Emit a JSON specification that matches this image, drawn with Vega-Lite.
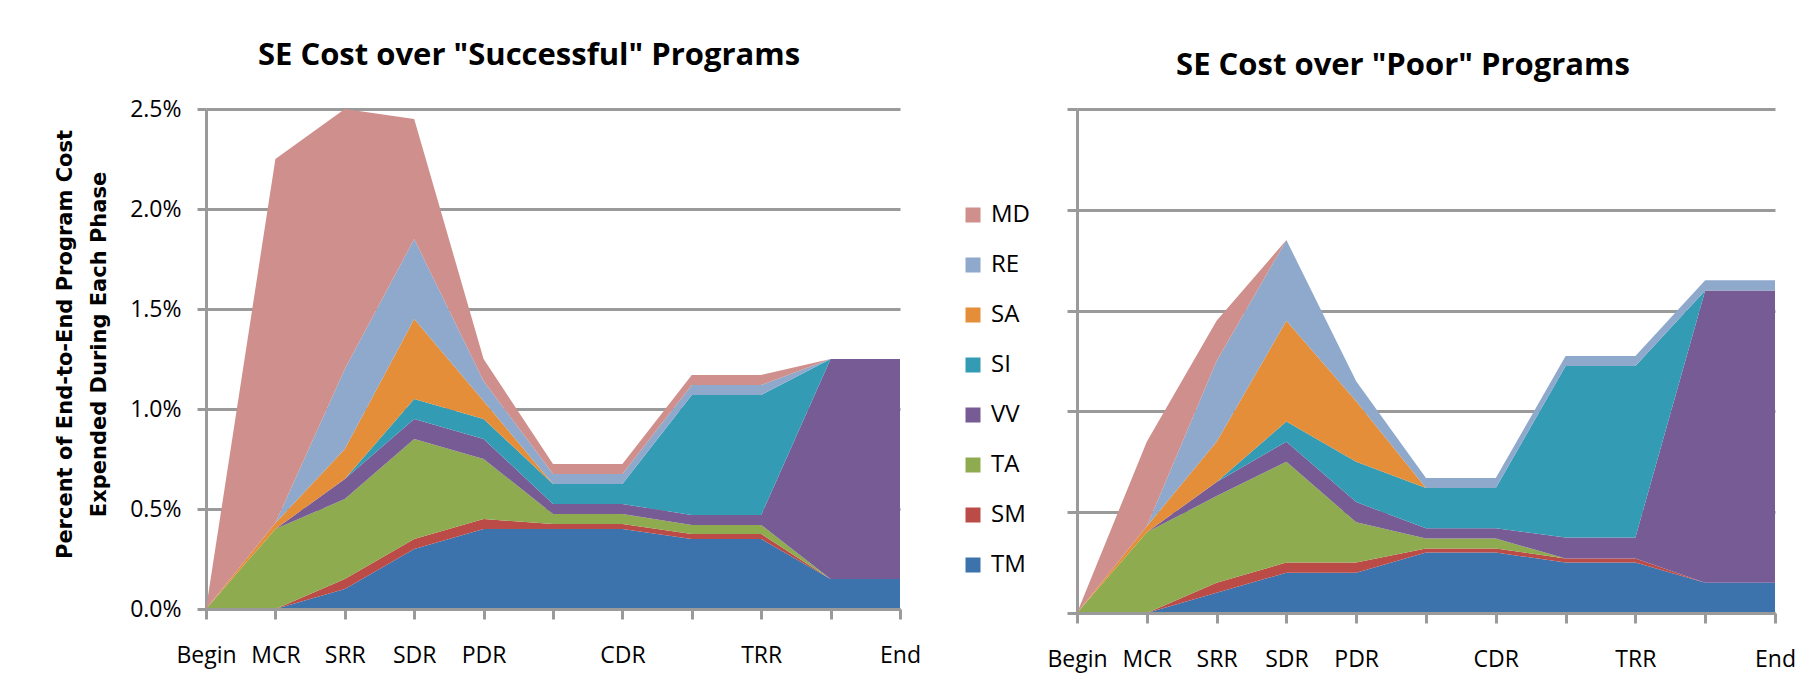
{
  "$schema": "https://vega.github.io/schema/vega-lite/v6.json",
  "background": "white",
  "padding": {"left": 54, "top": 40, "right": 5, "bottom": 5},
  "spacing": 16,
  "config": {
    "font": "Open Sans",
    "view": {"stroke": null},
    "axis": {"domainColor": "#9a9a9a", "domainWidth": 3, "tickColor": "#9a9a9a", "tickWidth": 3, "gridColor": "#9a9a9a", "gridWidth": 3, "labelColor": "#000000", "labelFont": "Open Sans", "labelFontSize": 23, "titleColor": "#000000", "titleFont": "Open Sans"},
    "title": {"font": "Open Sans", "fontSize": 31, "fontWeight": "bold", "color": "#000000"},
    "legend": {"labelFont": "Open Sans", "labelColor": "#000000"}
  },
  "resolve": {"scale": {"color": "independent"}, "legend": {"color": "independent"}},
  "datasets": {
    "successful": [
      {"phase":"Begin","series":"TM","k":1,"value":0},{"phase":"Begin","series":"SM","k":2,"value":0},{"phase":"Begin","series":"TA","k":3,"value":0},{"phase":"Begin","series":"VV","k":4,"value":0},{"phase":"Begin","series":"SI","k":5,"value":0},{"phase":"Begin","series":"SA","k":6,"value":0},{"phase":"Begin","series":"RE","k":7,"value":0},{"phase":"Begin","series":"MD","k":8,"value":0},
      {"phase":"MCR","series":"TM","k":1,"value":0},{"phase":"MCR","series":"SM","k":2,"value":0},{"phase":"MCR","series":"TA","k":3,"value":0.40},{"phase":"MCR","series":"VV","k":4,"value":0},{"phase":"MCR","series":"SI","k":5,"value":0},{"phase":"MCR","series":"SA","k":6,"value":0.03},{"phase":"MCR","series":"RE","k":7,"value":0},{"phase":"MCR","series":"MD","k":8,"value":1.82},
      {"phase":"SRR","series":"TM","k":1,"value":0.10},{"phase":"SRR","series":"SM","k":2,"value":0.05},{"phase":"SRR","series":"TA","k":3,"value":0.40},{"phase":"SRR","series":"VV","k":4,"value":0.10},{"phase":"SRR","series":"SI","k":5,"value":0},{"phase":"SRR","series":"SA","k":6,"value":0.15},{"phase":"SRR","series":"RE","k":7,"value":0.40},{"phase":"SRR","series":"MD","k":8,"value":1.30},
      {"phase":"SDR","series":"TM","k":1,"value":0.30},{"phase":"SDR","series":"SM","k":2,"value":0.05},{"phase":"SDR","series":"TA","k":3,"value":0.50},{"phase":"SDR","series":"VV","k":4,"value":0.10},{"phase":"SDR","series":"SI","k":5,"value":0.10},{"phase":"SDR","series":"SA","k":6,"value":0.40},{"phase":"SDR","series":"RE","k":7,"value":0.40},{"phase":"SDR","series":"MD","k":8,"value":0.60},
      {"phase":"PDR","series":"TM","k":1,"value":0.40},{"phase":"PDR","series":"SM","k":2,"value":0.05},{"phase":"PDR","series":"TA","k":3,"value":0.30},{"phase":"PDR","series":"VV","k":4,"value":0.10},{"phase":"PDR","series":"SI","k":5,"value":0.10},{"phase":"PDR","series":"SA","k":6,"value":0.09},{"phase":"PDR","series":"RE","k":7,"value":0.10},{"phase":"PDR","series":"MD","k":8,"value":0.11},
      {"phase":"PDR-CDR","series":"TM","k":1,"value":0.40},{"phase":"PDR-CDR","series":"SM","k":2,"value":0.025},{"phase":"PDR-CDR","series":"TA","k":3,"value":0.05},{"phase":"PDR-CDR","series":"VV","k":4,"value":0.05},{"phase":"PDR-CDR","series":"SI","k":5,"value":0.10},{"phase":"PDR-CDR","series":"SA","k":6,"value":0},{"phase":"PDR-CDR","series":"RE","k":7,"value":0.05},{"phase":"PDR-CDR","series":"MD","k":8,"value":0.05},
      {"phase":"CDR","series":"TM","k":1,"value":0.40},{"phase":"CDR","series":"SM","k":2,"value":0.025},{"phase":"CDR","series":"TA","k":3,"value":0.05},{"phase":"CDR","series":"VV","k":4,"value":0.05},{"phase":"CDR","series":"SI","k":5,"value":0.10},{"phase":"CDR","series":"SA","k":6,"value":0},{"phase":"CDR","series":"RE","k":7,"value":0.05},{"phase":"CDR","series":"MD","k":8,"value":0.05},
      {"phase":"CDR-TRR","series":"TM","k":1,"value":0.35},{"phase":"CDR-TRR","series":"SM","k":2,"value":0.025},{"phase":"CDR-TRR","series":"TA","k":3,"value":0.045},{"phase":"CDR-TRR","series":"VV","k":4,"value":0.05},{"phase":"CDR-TRR","series":"SI","k":5,"value":0.60},{"phase":"CDR-TRR","series":"SA","k":6,"value":0},{"phase":"CDR-TRR","series":"RE","k":7,"value":0.05},{"phase":"CDR-TRR","series":"MD","k":8,"value":0.05},
      {"phase":"TRR","series":"TM","k":1,"value":0.35},{"phase":"TRR","series":"SM","k":2,"value":0.025},{"phase":"TRR","series":"TA","k":3,"value":0.045},{"phase":"TRR","series":"VV","k":4,"value":0.05},{"phase":"TRR","series":"SI","k":5,"value":0.60},{"phase":"TRR","series":"SA","k":6,"value":0},{"phase":"TRR","series":"RE","k":7,"value":0.05},{"phase":"TRR","series":"MD","k":8,"value":0.05},
      {"phase":"TRR-End","series":"TM","k":1,"value":0.15},{"phase":"TRR-End","series":"SM","k":2,"value":0},{"phase":"TRR-End","series":"TA","k":3,"value":0},{"phase":"TRR-End","series":"VV","k":4,"value":1.10},{"phase":"TRR-End","series":"SI","k":5,"value":0},{"phase":"TRR-End","series":"SA","k":6,"value":0},{"phase":"TRR-End","series":"RE","k":7,"value":0},{"phase":"TRR-End","series":"MD","k":8,"value":0},
      {"phase":"End","series":"TM","k":1,"value":0.15},{"phase":"End","series":"SM","k":2,"value":0},{"phase":"End","series":"TA","k":3,"value":0},{"phase":"End","series":"VV","k":4,"value":1.10},{"phase":"End","series":"SI","k":5,"value":0},{"phase":"End","series":"SA","k":6,"value":0},{"phase":"End","series":"RE","k":7,"value":0},{"phase":"End","series":"MD","k":8,"value":0}
    ],
    "poor": [
      {"phase":"Begin","series":"TM","k":1,"value":0},{"phase":"Begin","series":"SM","k":2,"value":0},{"phase":"Begin","series":"TA","k":3,"value":0},{"phase":"Begin","series":"VV","k":4,"value":0},{"phase":"Begin","series":"SI","k":5,"value":0},{"phase":"Begin","series":"SA","k":6,"value":0},{"phase":"Begin","series":"RE","k":7,"value":0},{"phase":"Begin","series":"MD","k":8,"value":0},
      {"phase":"MCR","series":"TM","k":1,"value":0},{"phase":"MCR","series":"SM","k":2,"value":0},{"phase":"MCR","series":"TA","k":3,"value":0.40},{"phase":"MCR","series":"VV","k":4,"value":0},{"phase":"MCR","series":"SI","k":5,"value":0},{"phase":"MCR","series":"SA","k":6,"value":0.03},{"phase":"MCR","series":"RE","k":7,"value":0},{"phase":"MCR","series":"MD","k":8,"value":0.42},
      {"phase":"SRR","series":"TM","k":1,"value":0.10},{"phase":"SRR","series":"SM","k":2,"value":0.05},{"phase":"SRR","series":"TA","k":3,"value":0.43},{"phase":"SRR","series":"VV","k":4,"value":0.07},{"phase":"SRR","series":"SI","k":5,"value":0},{"phase":"SRR","series":"SA","k":6,"value":0.20},{"phase":"SRR","series":"RE","k":7,"value":0.40},{"phase":"SRR","series":"MD","k":8,"value":0.20},
      {"phase":"SDR","series":"TM","k":1,"value":0.20},{"phase":"SDR","series":"SM","k":2,"value":0.05},{"phase":"SDR","series":"TA","k":3,"value":0.50},{"phase":"SDR","series":"VV","k":4,"value":0.10},{"phase":"SDR","series":"SI","k":5,"value":0.10},{"phase":"SDR","series":"SA","k":6,"value":0.50},{"phase":"SDR","series":"RE","k":7,"value":0.40},{"phase":"SDR","series":"MD","k":8,"value":0},
      {"phase":"PDR","series":"TM","k":1,"value":0.20},{"phase":"PDR","series":"SM","k":2,"value":0.05},{"phase":"PDR","series":"TA","k":3,"value":0.20},{"phase":"PDR","series":"VV","k":4,"value":0.10},{"phase":"PDR","series":"SI","k":5,"value":0.20},{"phase":"PDR","series":"SA","k":6,"value":0.30},{"phase":"PDR","series":"RE","k":7,"value":0.10},{"phase":"PDR","series":"MD","k":8,"value":0},
      {"phase":"PDR-CDR","series":"TM","k":1,"value":0.30},{"phase":"PDR-CDR","series":"SM","k":2,"value":0.02},{"phase":"PDR-CDR","series":"TA","k":3,"value":0.05},{"phase":"PDR-CDR","series":"VV","k":4,"value":0.05},{"phase":"PDR-CDR","series":"SI","k":5,"value":0.20},{"phase":"PDR-CDR","series":"SA","k":6,"value":0},{"phase":"PDR-CDR","series":"RE","k":7,"value":0.05},{"phase":"PDR-CDR","series":"MD","k":8,"value":0},
      {"phase":"CDR","series":"TM","k":1,"value":0.30},{"phase":"CDR","series":"SM","k":2,"value":0.02},{"phase":"CDR","series":"TA","k":3,"value":0.05},{"phase":"CDR","series":"VV","k":4,"value":0.05},{"phase":"CDR","series":"SI","k":5,"value":0.20},{"phase":"CDR","series":"SA","k":6,"value":0},{"phase":"CDR","series":"RE","k":7,"value":0.05},{"phase":"CDR","series":"MD","k":8,"value":0},
      {"phase":"CDR-TRR","series":"TM","k":1,"value":0.25},{"phase":"CDR-TRR","series":"SM","k":2,"value":0.02},{"phase":"CDR-TRR","series":"TA","k":3,"value":0},{"phase":"CDR-TRR","series":"VV","k":4,"value":0.105},{"phase":"CDR-TRR","series":"SI","k":5,"value":0.85},{"phase":"CDR-TRR","series":"SA","k":6,"value":0},{"phase":"CDR-TRR","series":"RE","k":7,"value":0.05},{"phase":"CDR-TRR","series":"MD","k":8,"value":0},
      {"phase":"TRR","series":"TM","k":1,"value":0.25},{"phase":"TRR","series":"SM","k":2,"value":0.02},{"phase":"TRR","series":"TA","k":3,"value":0},{"phase":"TRR","series":"VV","k":4,"value":0.105},{"phase":"TRR","series":"SI","k":5,"value":0.85},{"phase":"TRR","series":"SA","k":6,"value":0},{"phase":"TRR","series":"RE","k":7,"value":0.05},{"phase":"TRR","series":"MD","k":8,"value":0},
      {"phase":"TRR-End","series":"TM","k":1,"value":0.15},{"phase":"TRR-End","series":"SM","k":2,"value":0},{"phase":"TRR-End","series":"TA","k":3,"value":0},{"phase":"TRR-End","series":"VV","k":4,"value":1.45},{"phase":"TRR-End","series":"SI","k":5,"value":0},{"phase":"TRR-End","series":"SA","k":6,"value":0},{"phase":"TRR-End","series":"RE","k":7,"value":0.05},{"phase":"TRR-End","series":"MD","k":8,"value":0},
      {"phase":"End","series":"TM","k":1,"value":0.15},{"phase":"End","series":"SM","k":2,"value":0},{"phase":"End","series":"TA","k":3,"value":0},{"phase":"End","series":"VV","k":4,"value":1.45},{"phase":"End","series":"SI","k":5,"value":0},{"phase":"End","series":"SA","k":6,"value":0},{"phase":"End","series":"RE","k":7,"value":0.05},{"phase":"End","series":"MD","k":8,"value":0}
    ]
  },
  "hconcat": [
    {
      "width": 694,
      "height": 500,
      "title": {"text": "SE Cost over \"Successful\" Programs", "offset": 26, "dx": -24},
      "data": {"name": "successful"},
      "mark": {"type": "area", "interpolate": "linear"},
      "encoding": {
        "x": {"field": "phase", "type": "ordinal", "sort": ["Begin","MCR","SRR","SDR","PDR","PDR-CDR","CDR","CDR-TRR","TRR","TRR-End","End"], "scale": {"type": "point", "padding": 0},
              "axis": {"title": null, "labelAngle": 0, "labelExpr": "indexof(datum.value, '-') >= 0 ? '' : datum.value", "tickSize": 10, "labelPadding": 25, "grid": false, "zindex": 1}},
        "y": {"field": "value", "type": "quantitative", "stack": "zero", "scale": {"domain": [0, 2.5], "nice": false},
              "axis": {"values": [0, 0.5, 1, 1.5, 2, 2.5], "labelExpr": "format(datum.value, '.1f') + '%'", "title": ["Percent of End-to-End Program Cost", "Expended During Each Phase"], "titleFont": "DejaVu Sans", "titleFontSize": 21, "titleFontWeight": "bold", "titlePadding": 20, "titleLineHeight": 34, "titleY": 235, "tickSize": 9, "labelPadding": 16, "grid": true, "zindex": 0}},
        "color": {"field": "series", "type": "nominal",
                  "scale": {"domain": ["MD","RE","SA","SI","VV","TA","SM","TM"],
                            "range": ["#CF8F8C", "#8FA9CC", "#E48E39", "#349BB5", "#765B95", "#8EAB4F", "#BA4B46", "#3C73AC"]},
                  "legend": {"orient": "none", "legendX": 755, "legendY": 94, "title": null, "symbolType": "square", "symbolSize": 225, "symbolStrokeWidth": 0, "symbolOpacity": 1, "labelFontSize": 24, "labelOffset": 6, "rowPadding": 26}},
        "order": {"field": "k", "type": "quantitative"}
      }
    },
    {
      "width": 698,
      "height": 504,
      "title": {"text": "SE Cost over \"Poor\" Programs", "offset": 26, "dx": -23},
      "data": {"name": "poor"},
      "mark": {"type": "area", "interpolate": "linear"},
      "encoding": {
        "x": {"field": "phase", "type": "ordinal", "sort": ["Begin","MCR","SRR","SDR","PDR","PDR-CDR","CDR","CDR-TRR","TRR","TRR-End","End"], "scale": {"type": "point", "padding": 0},
              "axis": {"title": null, "labelAngle": 0, "labelExpr": "indexof(datum.value, '-') >= 0 ? '' : datum.value", "tickSize": 10, "labelPadding": 25, "grid": false, "zindex": 1}},
        "y": {"field": "value", "type": "quantitative", "stack": "zero", "scale": {"domain": [0, 2.5], "nice": false},
              "axis": {"values": [0, 0.5, 1, 1.5, 2, 2.5], "labels": false, "title": null, "tickSize": 10, "grid": true, "zindex": 0}},
        "color": {"field": "series", "type": "nominal",
                  "scale": {"domain": ["MD","RE","SA","SI","VV","TA","SM","TM"],
                            "range": ["#CF8F8C", "#8FA9CC", "#E48E39", "#349BB5", "#765B95", "#8EAB4F", "#BA4B46", "#3C73AC"]},
                  "legend": null},
        "order": {"field": "k", "type": "quantitative"}
      }
    }
  ]
}
